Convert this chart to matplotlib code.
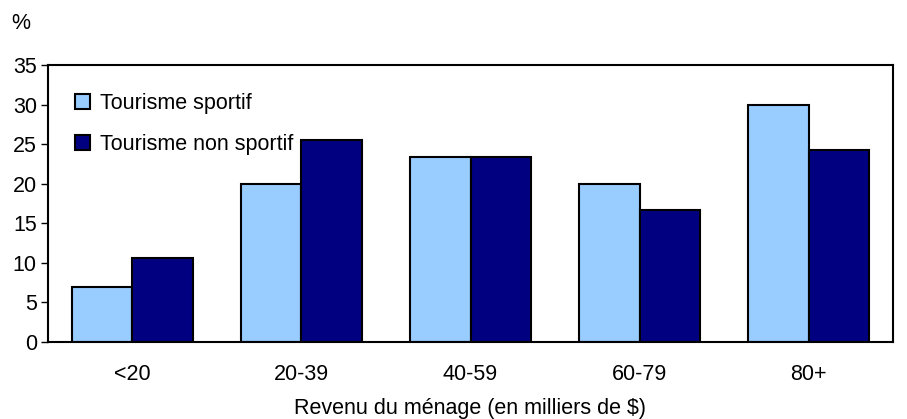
import matplotlib.pyplot as plt
import numpy as np

plt.rcParams['font.family'] = ['Liberation Sans', 'DejaVu Sans']

categories = ['<20', '20-39', '40-59', '60-79', '80+']
sportif = [7.0, 20.0, 23.4, 19.9, 30.0]
non_sportif = [10.6, 25.5, 23.4, 16.7, 24.2]

FS = 15.5

fig = plt.figure(figsize=(9.07, 4.19), dpi=100)
ax = fig.add_axes([0.0529, 0.1838, 0.9317, 0.6611])

x = np.arange(len(categories))
w = 0.36
ax.bar(x - w / 2, sportif, w, color='#99CCFF', edgecolor='black', linewidth=1.5,
       label='Tourisme sportif')
ax.bar(x + w / 2, non_sportif, w, color='#000080', edgecolor='black', linewidth=1.5,
       label='Tourisme non sportif')

ax.set_xlim(-0.5, len(categories) - 0.5)
ax.set_ylim(0, 35)
ax.set_yticks(np.arange(0, 36, 5))
ax.set_xticks(x)
ax.set_xticklabels(categories)
ax.tick_params(axis='y', direction='out', length=5, width=1, labelsize=FS, pad=3)
ax.tick_params(axis='x', length=0, labelsize=FS, pad=16)
for s in ax.spines.values():
    s.set_linewidth(1.5)

fig.text(0.5187, 0.012, 'Revenu du ménage (en milliers de $)', fontsize=FS,
         ha='center', va='baseline')
fig.text(0.012, 0.945, '%', fontsize=FS, va='center')

ax.legend(loc='upper left', bbox_to_anchor=(0.032, 0.899), frameon=False, fontsize=FS,
          borderpad=0, borderaxespad=0,
          handlelength=0.7, handleheight=0.7, handletextpad=0.45, labelspacing=0.94)

fig.savefig('out.png', dpi=100)
